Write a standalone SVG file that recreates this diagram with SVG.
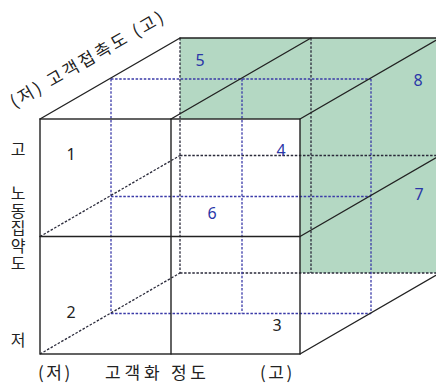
<svg xmlns="http://www.w3.org/2000/svg" width="436" height="384" viewBox="0 0 436 384">
<style>
.solid{stroke:#222;stroke-width:1.4;fill:none;stroke-linecap:round}
.dk{stroke:#2a2a3a;stroke-width:1.3;fill:none;stroke-dasharray:2.5 1.6}
.bl{stroke:#3a3aa8;stroke-width:1.3;fill:none;stroke-dasharray:2.5 1.6}
.kr{font-family:"Noto Sans CJK KR","Noto Sans",sans-serif;font-size:16px;fill:#222}
.num{font-family:"Noto Sans","DejaVu Sans",sans-serif;font-size:16px;text-anchor:middle}
.nb{fill:#222}
.nu{fill:#2a36a8}
</style>
<rect width="436" height="384" fill="#fff"/>
<g id="back-face">
<rect x="180" y="38" width="260" height="235" fill="#b4d8c3"/>
</g>
<g id="front-face">
<rect x="40" y="119" width="260" height="235" fill="#fff"/>
</g>
<g id="connectors">
<line class="dk" x1="180" y1="38" x2="180" y2="273"/>
<line class="dk" x1="311" y1="38" x2="311" y2="273"/>
<line class="dk" x1="180" y1="155.5" x2="440" y2="155.5"/>
<line class="dk" x1="180" y1="273" x2="440" y2="273"/>
<line class="bl" x1="111" y1="79" x2="371" y2="79"/>
<line class="bl" x1="111" y1="79" x2="111" y2="313.5"/>
<line class="bl" x1="242" y1="79" x2="242" y2="313.5"/>
<line class="bl" x1="371" y1="79" x2="371" y2="313.5"/>
<line class="bl" x1="111" y1="196.5" x2="371" y2="196.5"/>
<line class="bl" x1="111" y1="313.5" x2="371" y2="313.5"/>
<line class="dk" x1="40" y1="236.5" x2="180" y2="155.5"/>
<line class="dk" x1="40" y1="354" x2="180" y2="273"/>
<rect class="solid" x="40" y="119" width="260" height="235"/>
<line class="solid" x1="171" y1="119" x2="171" y2="354"/>
<line class="solid" x1="40" y1="236.5" x2="300" y2="236.5"/>
<line class="solid" x1="40" y1="119" x2="180" y2="38"/>
<line class="solid" x1="171" y1="119" x2="311" y2="38"/>
<line class="solid" x1="180" y1="38" x2="440" y2="38"/>
<line class="solid" x1="300" y1="119" x2="440" y2="38"/>
<line class="solid" x1="300" y1="236.5" x2="440" y2="155.5"/>
<line class="solid" x1="300" y1="354" x2="440" y2="273"/>
</g>
<g id="cells">
<text class="num nb" x="71" y="160">1</text>
<text class="num nb" x="71" y="318">2</text>
<text class="num nb" x="277" y="331">3</text>
<text class="num nu" x="281" y="156">4</text>
<text class="num nu" x="200" y="66">5</text>
<text class="num nu" x="212" y="219">6</text>
<text class="num nu" x="419" y="200">7</text>
<text class="num nu" x="418" y="86">8</text>
</g>
<g id="axis-labels">
<text class="kr" transform="translate(88,59) rotate(-30)" x="0" y="6" text-anchor="middle" style="font-size:17px;letter-spacing:2.8px">(저) 고객접촉도 (고)</text>
<text class="kr" x="18" y="155" text-anchor="middle">고</text>
<text class="kr" x="18" y="185" writing-mode="vertical-rl" style="letter-spacing:1.6px">노동집약도</text>
<text class="kr" x="18" y="346" text-anchor="middle">저</text>
<text class="kr" x="38" y="379" style="font-size:17px;letter-spacing:2.5px">(저)</text>
<text class="kr" x="105" y="379" style="font-size:17px;letter-spacing:3.8px">고객화 정도</text>
<text class="kr" x="260" y="379" style="font-size:17px;letter-spacing:2.5px">(고)</text>
</g>
</svg>
